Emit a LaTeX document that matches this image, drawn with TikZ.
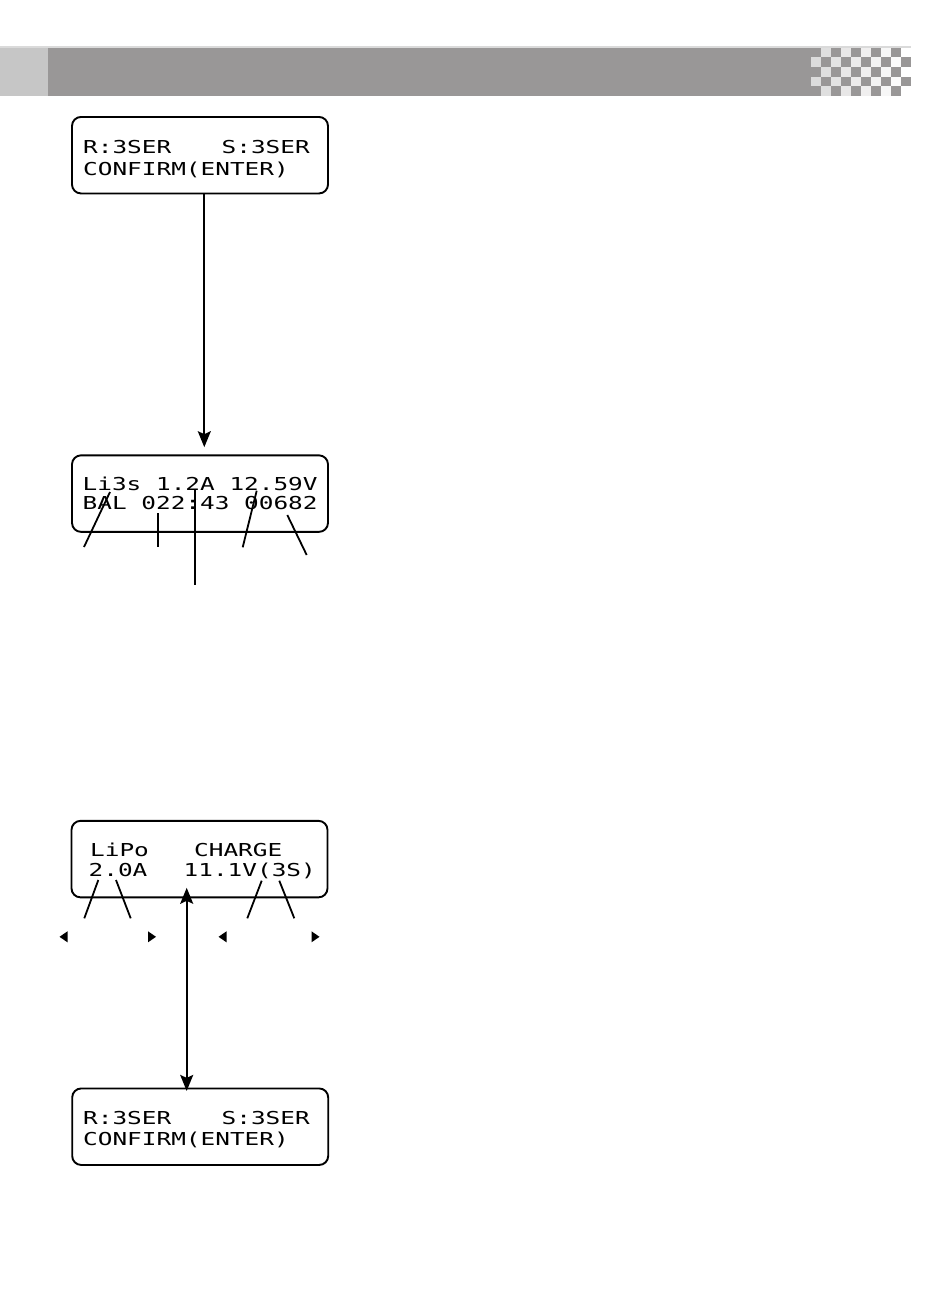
\documentclass[tikz,border=0pt]{standalone}
\usepackage{fontspec}
\newfontfamily\lcd[FakeStretch=1.37]{DejaVu Sans Mono}
\usetikzlibrary{arrows.meta}
\definecolor{barg}{HTML}{999797}
\definecolor{leftg}{HTML}{C6C6C6}
\definecolor{lineg}{HTML}{DADADA}
\begin{document}
\begin{tikzpicture}[x=1pt,y=-1pt,
  lcdbox/.style={draw, line width=1.9pt, rounded corners=9pt, minimum width=256pt, minimum height=76.5pt, inner sep=0pt},
  lcdtxt/.style={anchor=base west, inner sep=0pt, font=\lcd\fontsize{17.8}{20}\selectfont},
  ptr/.style={line width=1.8pt},
  arr/.style={line width=1.9pt, -{Stealth[length=16pt,width=13pt,inset=3pt]}},
  dblarr/.style={line width=1.9pt, {Stealth[length=16pt,width=13pt,inset=3pt]}-{Stealth[length=16pt,width=13pt,inset=3pt]}},
  tri/.style={fill=black}
]
\useasboundingbox (0,0) rectangle (950,1307);
\fill[white] (0,0) rectangle (950,1307);

% header bar
\fill[lineg] (0,46) rectangle (911,47.6);
\fill[leftg] (0,47.6) rectangle (48,95.8);
\fill[barg] (48,47.6) rectangle (911,95.8);
\foreach \r in {0,...,4}{
  \foreach \k in {0,...,9}{
    \pgfmathtruncatemacro{\pp}{mod(\r+\k,2)}
    \ifnum\pp=1
      \pgfmathtruncatemacro{\g}{min(100,66+3.8*\k)}
      \fill[white!\g!barg] ({811+10*\k},{47.6+9.64*\r}) rectangle ({821+10*\k},{47.6+9.64*(\r+1)});
    \fi
  }
}

% boxes
\node[lcdbox] (b1) at (200,155.2) {};
\node[lcdbox] (b2) at (200,493.6) {};
\node[lcdbox] (b3) at (199.5,859.1) {};
\node[lcdbox] (b4) at (200.2,1126.7) {};

% box 1 text
\node[lcdtxt] (t1a) at (83,153.3) {R:3SER};
\node[lcdtxt] (t1b) at (221.5,153.3) {S:3SER};
\node[lcdtxt] (t1c) at (83,175) {CONFIRM(ENTER)};

% box 2 text
\node[lcdtxt] (t2a) at (82.5,490) {Li3s 1.2A 12.59V};
\node[lcdtxt] (t2b) at (82.5,509) {BAL 022:43 00682};

% box 3 text
\node[lcdtxt] (t3a) at (90,856) {LiPo};
\node[lcdtxt] (t3b) at (194,856) {CHARGE};
\node[lcdtxt] (t3c) at (88.5,876.7) {2.0A};
\node[lcdtxt] (t3d) at (183.5,876.7) {11.1V(3S)};

% box 4 text
\node[lcdtxt] (t4a) at (83,1124) {R:3SER};
\node[lcdtxt] (t4b) at (221.5,1124) {S:3SER};
\node[lcdtxt] (t4c) at (83,1145) {CONFIRM(ENTER)};

% arrows
\draw[arr] ([xshift=4.3pt]b1.south) -- ([xshift=4.3pt,yshift=7.2pt]b2.north);
\draw[dblarr] ([xshift=-12.8pt,yshift=10.5pt]b3.south) -- ([xshift=-13.5pt,yshift=-3.4pt]b4.north);

% pointers box 2
\coordinate (p1a) at (110,492);   \coordinate (p1b) at (84,547);
\coordinate (p2a) at (157.7,513); \coordinate (p2b) at (157.7,547);
\coordinate (p3a) at (195,490);   \coordinate (p3b) at (195,585);
\coordinate (p4a) at (256.7,490.7); \coordinate (p4b) at (242.7,547.3);
\coordinate (p5a) at (287.3,515); \coordinate (p5b) at (306.7,555);
\draw[ptr] (p1a) -- (p1b);
\draw[ptr] (p2a) -- (p2b);
\draw[ptr] (p3a) -- (p3b);
\draw[ptr] (p4a) -- (p4b);
\draw[ptr] (p5a) -- (p5b);

% pointers box 3
\coordinate (q1a) at (98.3,880);  \coordinate (q1b) at (84.3,918.3);
\coordinate (q2a) at (116,880);   \coordinate (q2b) at (130.7,918.3);
\coordinate (q3a) at (261.7,880.7); \coordinate (q3b) at (247.3,918.3);
\coordinate (q4a) at (279.3,880.7); \coordinate (q4b) at (294.3,918.3);
\draw[ptr] (q1a) -- (q1b);
\draw[ptr] (q2a) -- (q2b);
\draw[ptr] (q3a) -- (q3b);
\draw[ptr] (q4a) -- (q4b);

% small triangles
\fill[tri] (59.5,936.8) -- (67.5,931.3) -- (67.5,942.3) -- cycle;
\fill[tri] (156,936.8) -- (148,931.3) -- (148,942.3) -- cycle;
\fill[tri] (218.5,936.8) -- (226.5,931.3) -- (226.5,942.3) -- cycle;
\fill[tri] (319.5,936.8) -- (311.5,931.3) -- (311.5,942.3) -- cycle;
\end{tikzpicture}
\end{document}
